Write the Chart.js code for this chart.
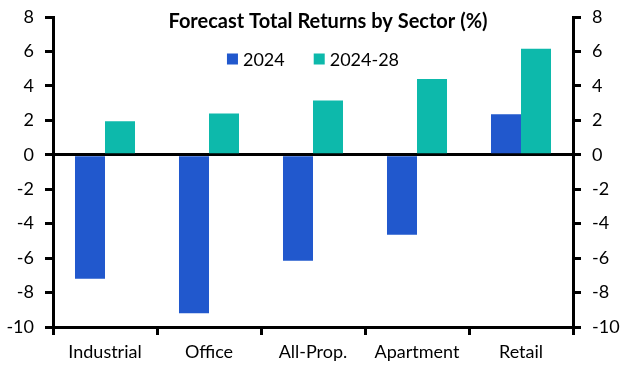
<!DOCTYPE html>
<html>
<head>
<meta charset="utf-8">
<script src="https://cdn.jsdelivr.net/npm/chart.js@4.4.1/dist/chart.umd.min.js"></script>
<style>
  html, body { margin: 0; padding: 0; background: #fff; }
  #wrap { width: 631px; height: 369px; }
</style>
</head>
<body>
<div id="wrap"><canvas id="sectorChart" width="631" height="369"></canvas></div>
<script>
// Data
const sectors = ['Industrial', 'Office', 'All-Prop.', 'Apartment', 'Retail'];
const returns2024 = [-7.2, -9.2, -6.15, -4.65, 2.35];
const returns2024to28 = [1.95, 2.4, 3.15, 4.4, 6.15];
const seriesNames = ['2024', '2024-28'];
const chartTitle = 'Forecast Total Returns by Sector (%)';
const yMin = -10;
const yMax = 8;
const yStep = 2;

const BLUE = '#2158CD';
const TEAL = '#0DB9AB';
const FONT = 'Lato, "Open Sans", sans-serif';

// Title and legend sit inside the plot area, so draw them by hand
const headerPlugin = {
    id: 'header',
    afterDraw(chart) {
        const ctx = chart.ctx;
        const area = chart.chartArea;
        const mid = (area.left + area.right) / 2;

        ctx.save();
        ctx.fillStyle = '#000';
        ctx.textBaseline = 'middle';
        ctx.textAlign = 'center';
        ctx.font = 'bold 20px ' + FONT;
        ctx.fillText(chartTitle, mid + 15, 22);

        ctx.font = '18px ' + FONT;
        ctx.textAlign = 'left';
        const colors = [BLUE, TEAL];
        const box = 11;
        const gap = 5;
        const itemGap = 29;
        const widths = seriesNames.map(name => ctx.measureText(name).width);
        let total = 0;
        widths.forEach((w, i) => {
            total += box + gap + w + (i < widths.length - 1 ? itemGap : 0);
        });
        let x = mid - total / 2;
        const y = 59;
        seriesNames.forEach((name, i) => {
            ctx.fillStyle = colors[i];
            ctx.fillRect(x, y - box / 2, box, box);
            ctx.fillStyle = '#000';
            ctx.fillText(name, x + box + gap, y + 1);
            x += box + gap + widths[i] + itemGap;
        });
        ctx.restore();
    }
};

// Pin the axis sizes so the plot area lands where the reference has it
function fixVertical(width) {
    return function (scale) {
        scale.width = width;
        scale.paddingTop = 0;
        scale.paddingBottom = 0;
    };
}

function buildChart() {
    const ctx = document.getElementById('sectorChart').getContext('2d');

    new Chart(ctx, {
        type: 'bar',
        data: {
            labels: sectors,
            datasets: [
                {
                    label: seriesNames[0],
                    data: returns2024,
                    backgroundColor: BLUE,
                    borderWidth: 0,
                },
                {
                    label: seriesNames[1],
                    data: returns2024to28,
                    backgroundColor: TEAL,
                    borderWidth: 0,
                }
            ]
        },
        options: {
            responsive: false,
            animation: false,
            devicePixelRatio: 1,
            layout: { padding: { top: 17, left: 0, right: 0, bottom: 0 } },
            datasets: {
                bar: { categoryPercentage: 0.577, barPercentage: 1.0 }
            },
            plugins: {
                legend: { display: false },
                title: { display: false },
                tooltip: { enabled: false }
            },
            scales: {
                x: {
                    grid: {
                        offset: true,
                        drawOnChartArea: false,
                        drawTicks: true,
                        tickLength: 8,
                        color: '#000',
                        lineWidth: 3
                    },
                    border: { display: true, color: '#000', width: 3 },
                    ticks: {
                        color: '#000',
                        font: { family: FONT, size: 18 },
                        padding: 6,
                        maxRotation: 0
                    },
                    afterFit(scale) {
                        scale.height = 42;
                        scale.paddingLeft = 0;
                        scale.paddingRight = 0;
                    }
                },
                y: {
                    position: 'left',
                    min: yMin,
                    max: yMax,
                    z: 1,
                    grid: {
                        drawOnChartArea: true,
                        drawTicks: true,
                        tickLength: 8,
                        color: c => (c.tick && c.tick.value === 0) ? '#000' : 'rgba(0,0,0,0)',
                        tickColor: '#000',
                        lineWidth: 3
                    },
                    border: { display: true, color: '#000', width: 3 },
                    ticks: {
                        stepSize: yStep,
                        color: '#000',
                        font: { family: FONT, size: 18 },
                        padding: 11
                    },
                    afterFit: fixVertical(53)
                },
                y2: {
                    position: 'right',
                    min: yMin,
                    max: yMax,
                    grid: {
                        drawOnChartArea: false,
                        drawTicks: true,
                        tickLength: 8,
                        color: '#000',
                        lineWidth: 3
                    },
                    border: { display: true, color: '#000', width: 3 },
                    ticks: {
                        stepSize: yStep,
                        color: '#000',
                        font: { family: FONT, size: 18 },
                        padding: 11
                    },
                    afterFit: fixVertical(58)
                }
            }
        },
        plugins: [headerPlugin]
    });
}

buildChart();
</script>
</body>
</html>
